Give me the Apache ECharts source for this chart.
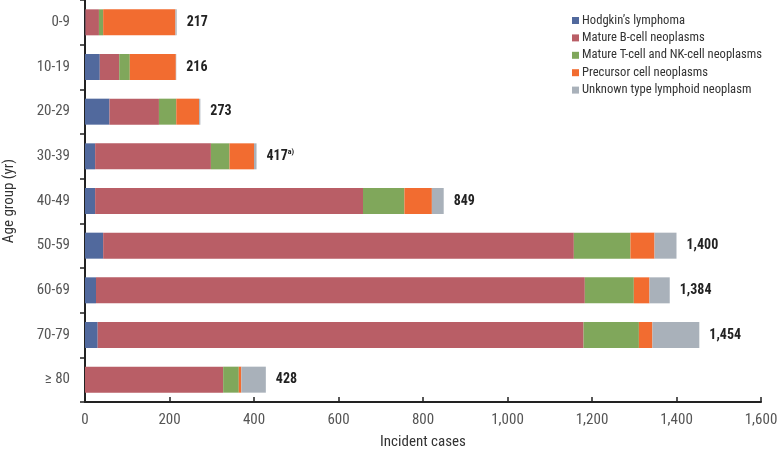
<!DOCTYPE html>
<html>
<head>
<meta charset="utf-8">
<script src="https://cdn.jsdelivr.net/npm/echarts@6/dist/echarts.min.js"></script>
<style>
html,body{margin:0;padding:0;background:#fff;}
#chart{width:778px;height:451px;}
</style>
</head>
<body>
<div id="chart"></div>
<script>
var categories = ['0-9','10-19','20-29','30-39','40-49','50-59','60-69','70-79','\u2265 80'];
var seriesNames = ['Hodgkin\u2019s lymphoma','Mature B-cell neoplasms','Mature T-cell and NK-cell neoplasms','Precursor cell neoplasms','Unknown type lymphoid neoplasm'];
var hodgkin  = [1, 35, 58, 24, 24, 43, 26, 30, 0];
var matureB  = [32, 46, 117, 274, 634, 1114, 1157, 1150, 327];
var matureT  = [10, 25, 41, 44, 98, 134, 116, 131, 37];
var precursor= [171, 109, 54, 58, 65, 57, 37, 32, 6];
var unknown  = [3, 1, 3, 6, 28, 52, 48, 111, 58];
var totalLabels = ['217','216','273','417','849','1,400','1,384','1,454','428'];
var footnotes = ['','','','a)','','','','',''];
var xTicks = [0,200,400,600,800,1000,1200,1400,1600];

var colors = ['#51699D','#B95E66','#80A75B','#F26C30','#A9B1BA'];
var FONT = '"Roboto Condensed","Liberation Sans Narrow",sans-serif';
var dataSets = [hodgkin, matureB, matureT, precursor, unknown];

var series = dataSets.map(function(d, i){
  var s = {
    name: seriesNames[i],
    type: 'bar',
    stack: 'total',
    barWidth: 26,
    data: d,
    itemStyle: {color: colors[i]}
  };
  if (i === dataSets.length - 1) {
    s.label = {
      show: true,
      position: 'right',
      distance: 10,
      formatter: function(p){
        var t = '{v|' + totalLabels[p.dataIndex] + '}';
        if (footnotes[p.dataIndex]) t += '{s|' + footnotes[p.dataIndex] + '}';
        return t;
      },
      rich: {
        v: {fontFamily: FONT, fontSize: 14, fontWeight: 'bold', color: '#222'},
        s: {fontFamily: FONT, fontSize: 8, fontWeight: 'bold', color: '#222', verticalAlign: 'top', padding: [0,0,8,0]}
      }
    };
  }
  return s;
});

var chart = echarts.init(document.getElementById('chart'));
chart.setOption({
  animation: false,
  backgroundColor: '#fff',
  grid: {left: 85, right: 17, top: 0, bottom: 49, containLabel: false, outerBoundsMode: 'none'},
  legend: {
    orient: 'vertical',
    left: 567,
    top: 9,
    itemWidth: 7,
    itemHeight: 7,
    itemGap: 4.4,
    icon: 'rect',
    textStyle: {fontFamily: FONT, fontSize: 12.6, color: '#333', padding: [0,0,0,-2]},
    data: seriesNames
  },
  xAxis: {
    type: 'value',
    min: xTicks[0],
    max: xTicks[xTicks.length-1],
    interval: 200,
    name: 'Incident cases',
    nameLocation: 'middle',
    nameGap: 33,
    nameTextStyle: {fontFamily: FONT, fontSize: 15, color: '#333'},
    axisLine: {show: true, lineStyle: {color: '#222', width: 2}},
    axisTick: {show: true, inside: true, length: 5, lineStyle: {color: '#222', width: 1.5}},
    axisLabel: {fontFamily: FONT, fontSize: 15, color: '#555', margin: 11,
      formatter: function(v){ return v.toLocaleString('en-US'); }},
    splitLine: {show: false}
  },
  yAxis: {
    type: 'category',
    inverse: true,
    data: categories,
    name: 'Age group (yr)',
    nameLocation: 'middle',
    nameGap: 68,
    nameRotate: 90,
    nameTextStyle: {fontFamily: FONT, fontSize: 15, color: '#333'},
    axisLine: {show: true, lineStyle: {color: '#222', width: 2}},
    axisTick: {show: true, inside: false, length: 5, alignWithLabel: false, lineStyle: {color: '#222', width: 1.5}},
    axisLabel: {fontFamily: FONT, fontSize: 15, color: '#555', margin: 15}
  },
  series: series
});
</script>
</body>
</html>
